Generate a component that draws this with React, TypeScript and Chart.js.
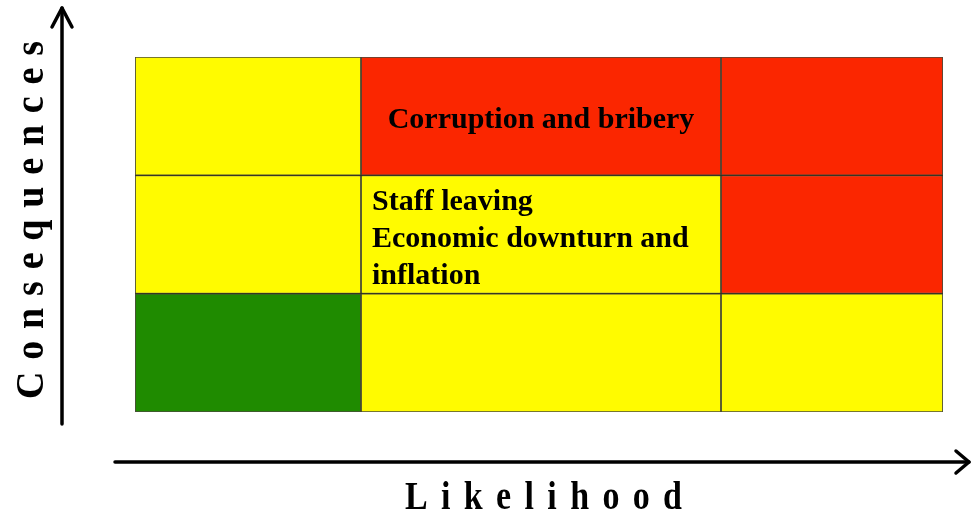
import React, { useEffect, useRef } from 'react';
import { Chart, registerables } from 'chart.js';

Chart.register(...registerables);

// Rows: consequence levels, top to bottom
const consequenceLevels = ['High', 'Medium', 'Low'];
// Columns: likelihood levels, left to right
const likelihoodLevels = ['Low', 'Medium', 'High'];
// Relative width of each likelihood band
const likelihoodBandWidths = [226, 360, 222];
// Risk rating of each cell [row][column]
const riskRatings = [
  ['medium', 'high', 'high'],
  ['medium', 'medium', 'high'],
  ['low', 'medium', 'medium'],
];
// Risks placed in each cell [row][column] -> lines
const cellRiskLines: string[][][] = [
  [[], ['Corruption and bribery'], []],
  [[], ['Staff leaving', 'Economic downturn and', 'inflation'], []],
  [[], [], []],
];
const xAxisTitle = 'Likelihood';
const yAxisTitle = 'Consequences';

const ratingColors: Record<string, string> = {
  low: '#1f8b00',
  medium: '#fffb00',
  high: '#fb2600',
};

function drawSpaced(
  ctx: CanvasRenderingContext2D,
  text: string,
  span: number,
  scaleX: number
) {
  const chars = text.split('');
  const widths = chars.map((c) => ctx.measureText(c).width * scaleX);
  const total = widths.reduce((a, b) => a + b, 0);
  const gap = (span - total) / (chars.length - 1);
  let x = -span / 2;
  chars.forEach((c, i) => {
    ctx.save();
    ctx.translate(x, 0);
    ctx.scale(scaleX, 1);
    ctx.fillText(c, 0, 0);
    ctx.restore();
    x += widths[i] + gap;
  });
}

const overlayPlugin = {
  id: 'riskOverlay',
  afterDatasetsDraw(chart: any) {
    const ctx: CanvasRenderingContext2D = chart.ctx;
    ctx.save();
    ctx.fillStyle = '#000';
    ctx.font = 'bold 30px "Liberation Serif", "Times New Roman", serif';
    for (let r = 0; r < consequenceLevels.length; r++) {
      for (let c = 0; c < likelihoodLevels.length; c++) {
        const lines = cellRiskLines[r][c];
        if (!lines.length) continue;
        const el = chart.getDatasetMeta(c).data[r];
        const p = el.getProps(['x', 'y', 'base', 'height'], true);
        const left = Math.min(p.x, p.base);
        const right = Math.max(p.x, p.base);
        const lh = 37;
        if (lines.length === 1) {
          ctx.textAlign = 'center';
          ctx.textBaseline = 'alphabetic';
          ctx.fillText(lines[0], (left + right) / 2, p.y + 12);
        } else {
          ctx.textAlign = 'left';
          ctx.textBaseline = 'alphabetic';
          lines.forEach((ln, i) => {
            ctx.fillText(ln, left + 11, p.y + (i - (lines.length - 1) / 2) * lh + 12);
          });
        }
      }
    }
    ctx.restore();
  },
  afterDraw(chart: any) {
    const ctx: CanvasRenderingContext2D = chart.ctx;
    const a = chart.chartArea;
    ctx.save();
    ctx.strokeStyle = '#000';
    ctx.lineWidth = 3.5;
    ctx.lineCap = 'round';
    ctx.lineJoin = 'round';
    // vertical arrow
    const ax = a.left - 73;
    ctx.beginPath();
    ctx.moveTo(ax, a.bottom + 12);
    ctx.lineTo(ax, a.top - 49);
    ctx.stroke();
    ctx.beginPath();
    ctx.moveTo(ax - 10, a.top - 30);
    ctx.lineTo(ax, a.top - 49);
    ctx.lineTo(ax + 10, a.top - 30);
    ctx.stroke();
    // horizontal arrow
    const ay = a.bottom + 50;
    const tipX = a.right + 26;
    ctx.beginPath();
    ctx.moveTo(a.left - 20, ay);
    ctx.lineTo(tipX, ay);
    ctx.stroke();
    ctx.beginPath();
    ctx.moveTo(tipX - 13, ay - 11);
    ctx.lineTo(tipX, ay);
    ctx.lineTo(tipX - 13, ay + 11);
    ctx.stroke();

    ctx.fillStyle = '#000';
    ctx.font = 'bold 40px "Liberation Serif", "Times New Roman", serif';
    ctx.textAlign = 'left';
    ctx.textBaseline = 'alphabetic';
    // x title
    ctx.save();
    ctx.translate(543.5, a.bottom + 97);
    drawSpaced(ctx, xAxisTitle, 277, 0.85);
    ctx.restore();
    // y title
    ctx.save();
    ctx.translate(43, 220);
    ctx.rotate(-Math.PI / 2);
    drawSpaced(ctx, yAxisTitle, 358, 0.95);
    ctx.restore();
    ctx.restore();
  },
};

export default function App() {
  const ref = useRef<HTMLCanvasElement | null>(null);
  useEffect(() => {
    document.body.style.margin = '0';
    const canvas = ref.current;
    if (!canvas) return;
    const datasets = likelihoodLevels.map((lvl, c) => ({
      label: lvl,
      data: consequenceLevels.map(() => likelihoodBandWidths[c]),
      backgroundColor: consequenceLevels.map((_, r) => ratingColors[riskRatings[r][c]]),
      borderColor: 'rgba(30,30,10,0.8)',
      borderWidth: 1.2,
      borderSkipped: false,
      categoryPercentage: 1,
      barPercentage: 1,
    }));
    const total = likelihoodBandWidths.reduce((a, b) => a + b, 0);
    const chart = new Chart(canvas, {
      type: 'bar',
      data: { labels: consequenceLevels, datasets },
      options: {
        indexAxis: 'y',
        responsive: false,
        animation: false,
        layout: { padding: { left: 135, top: 57, right: 30, bottom: 103 } },
        plugins: { legend: { display: false }, tooltip: { enabled: false } },
        scales: {
          x: { stacked: true, min: 0, max: total, display: false },
          y: { stacked: true, display: false },
        },
      },
      plugins: [overlayPlugin],
    } as any);
    return () => chart.destroy();
  }, []);
  return (
    <canvas ref={ref} width={973} height={515} style={{ display: 'block' }} />
  );
}
